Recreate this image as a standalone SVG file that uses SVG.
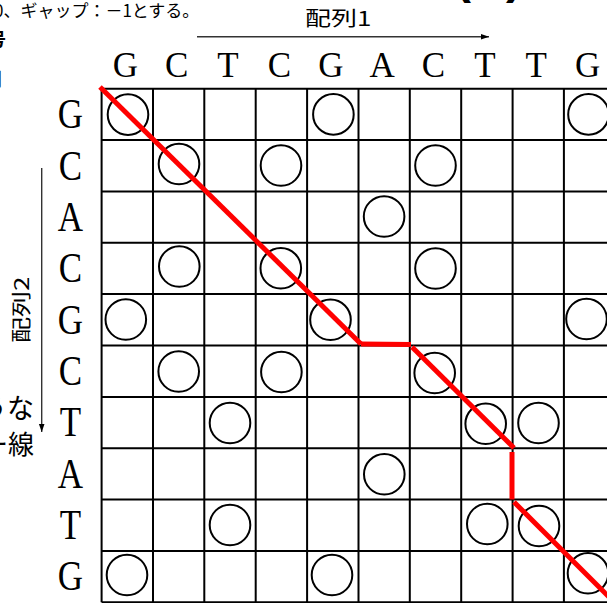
<svg xmlns="http://www.w3.org/2000/svg" width="607" height="603" viewBox="0 0 607 603">
<style>
.jp{font-family:"Noto Sans CJK JP","Noto Sans",sans-serif;fill:#000}
.seq{font-family:"Liberation Serif",serif;font-size:35px;fill:#000;text-anchor:middle}
.grid{fill:none;stroke:#000;stroke-width:2}
.dot{fill:none;stroke:#000;stroke-width:2}
.red{stroke:#ff0000;stroke-width:5;stroke-linecap:butt;fill:none}
.ax{stroke:#333;stroke-width:1.4;fill:none}
</style>
<defs>
<marker id="ah" viewBox="0 0 10 10" refX="10" refY="5" markerWidth="8" markerHeight="8" markerUnits="userSpaceOnUse" orient="auto"><path d="M0,1.5 L10,5 L0,8.5 Z" fill="#000"/></marker>
</defs>
<rect width="607" height="603" fill="#fff"/>

<g id="header">
<text class="jp" x="-6" y="16.5" font-size="17">0、ギャップ：－1とする。</text>
<text class="jp" x="6" y="46" font-size="18" font-weight="bold" text-anchor="end">号</text>
<text class="jp" x="2" y="86" font-size="18" text-anchor="end">列</text>
<text x="455" y="-7" font-family="Liberation Sans,sans-serif" font-size="48" font-weight="bold">(</text>
<text x="506" y="-7" font-family="Liberation Sans,sans-serif" font-size="48" font-weight="bold">)</text>
<text class="jp" x="34" y="418" font-size="27" text-anchor="end">ような</text>
<text class="jp" x="34" y="454" font-size="26" text-anchor="end">ー線</text>
</g>

<g id="axis1">
<line class="ax" x1="197" y1="36.7" x2="489" y2="36.7" marker-end="url(#ah)"/>
<text class="jp" transform="translate(305,26) scale(1.3,1)" font-size="20">配列1</text>
</g>
<g id="axis2">
<line class="ax" x1="41.7" y1="168" x2="41.7" y2="432" marker-end="url(#ah)"/>
<text class="jp" transform="translate(29,343) rotate(-90) scale(1.3,1)" font-size="20">配列2</text>
</g>

<g id="seq1">
<text class="seq" x="125.3" y="77">G</text>
<text class="seq" x="176.7" y="77">C</text>
<text class="seq" x="228.0" y="77">T</text>
<text class="seq" x="279.4" y="77">C</text>
<text class="seq" x="330.8" y="77">G</text>
<text class="seq" x="382.1" y="77">A</text>
<text class="seq" x="433.5" y="77">C</text>
<text class="seq" x="484.9" y="77">T</text>
<text class="seq" x="536.3" y="77">T</text>
<text class="seq" x="587.6" y="77">G</text>
</g>

<g id="seq2">
<text class="seq" transform="translate(70.5,128.1) scale(1,1.2)">G</text>
<text class="seq" transform="translate(70.5,179.5) scale(1,1.2)">C</text>
<text class="seq" transform="translate(70.5,230.9) scale(1,1.2)">A</text>
<text class="seq" transform="translate(70.5,282.2) scale(1,1.2)">C</text>
<text class="seq" transform="translate(70.5,333.6) scale(1,1.2)">G</text>
<text class="seq" transform="translate(70.5,384.9) scale(1,1.2)">C</text>
<text class="seq" transform="translate(70.5,436.3) scale(1,1.2)">T</text>
<text class="seq" transform="translate(70.5,487.6) scale(1,1.2)">A</text>
<text class="seq" transform="translate(70.5,539.0) scale(1,1.2)">T</text>
<text class="seq" transform="translate(70.5,590.3) scale(1,1.2)">G</text>
</g>

<g id="grid">
<path class="grid" d="M101.6,88.7V602.3M153,88.7V602.3M204.3,88.7V602.3M255.7,88.7V602.3M307.1,88.7V602.3M358.5,88.7V602.3M409.8,88.7V602.3M461.2,88.7V602.3M512.6,88.7V602.3M563.9,88.7V602.3M615.3,88.7V602.3
M101.6,88.7H615.3M101.6,140.1H615.3M101.6,191.4H615.3M101.6,242.8H615.3M101.6,294.1H615.3M101.6,345.5H615.3M101.6,396.9H615.3M101.6,448.2H615.3M101.6,499.6H615.3M101.6,550.9H615.3M101.6,602.3H615.3"/>
</g>

<g id="matches">
<circle class="dot" cx="128" cy="114.6" r="20.3"/>
<circle class="dot" cx="333.4" cy="114.4" r="20.3"/>
<circle class="dot" cx="588.5" cy="114.4" r="20.3"/>

<circle class="dot" cx="179" cy="164" r="20.3"/>
<circle class="dot" cx="281" cy="165.5" r="20.3"/>
<circle class="dot" cx="435.5" cy="165.5" r="20.3"/>

<circle class="dot" cx="384.1" cy="216.5" r="20.3"/>

<circle class="dot" cx="179.3" cy="266.5" r="20.3"/>
<circle class="dot" cx="280.8" cy="268.3" r="20.3"/>
<circle class="dot" cx="435.5" cy="268.5" r="20.3"/>

<circle class="dot" cx="125.8" cy="319.5" r="20.3"/>
<circle class="dot" cx="330.5" cy="319.8" r="20.3"/>
<circle class="dot" cx="586.5" cy="319" r="20.3"/>

<circle class="dot" cx="178.7" cy="371.5" r="20.3"/>
<circle class="dot" cx="281.4" cy="372" r="20.3"/>
<circle class="dot" cx="434.7" cy="373" r="20.3"/>

<circle class="dot" cx="230" cy="423" r="20.3"/>
<circle class="dot" cx="485.7" cy="423.8" r="20.3"/>
<circle class="dot" cx="538.5" cy="423" r="20.3"/>

<circle class="dot" cx="384.3" cy="474.3" r="20.3"/>

<circle class="dot" cx="230" cy="525" r="20.3"/>
<circle class="dot" cx="487.3" cy="524" r="20.3"/>
<circle class="dot" cx="539" cy="526" r="20.3"/>

<circle class="dot" cx="127" cy="575" r="20.3"/>
<circle class="dot" cx="332" cy="575" r="20.3"/>
<circle class="dot" cx="588" cy="573.3" r="20.3"/>
</g>

<g id="connectors">
<line class="red" x1="100" y1="87" x2="361" y2="344"/>
<line class="red" x1="361" y1="344" x2="411" y2="344.5"/>
<line class="red" x1="412" y1="347" x2="514" y2="448"/>
<line class="red" x1="512" y1="452" x2="512" y2="499.5"/>
<line class="red" x1="514" y1="502" x2="620" y2="608"/>
</g>
</svg>
